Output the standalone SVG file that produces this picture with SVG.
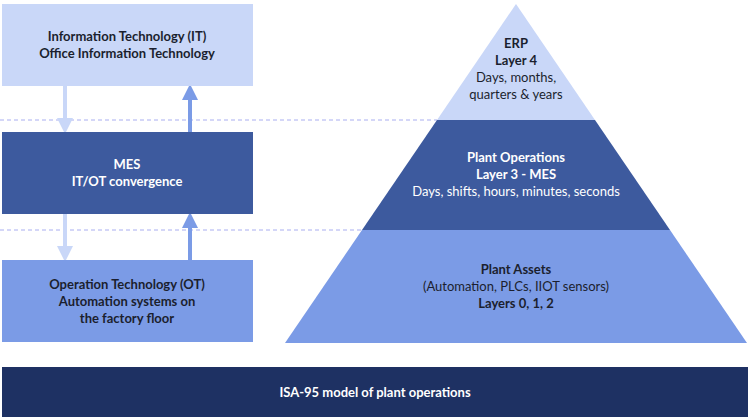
<svg xmlns="http://www.w3.org/2000/svg" width="750" height="420" viewBox="0 0 750 420">
<style>
text{font-family:Lato,"Liberation Sans",sans-serif;font-size:13px;text-anchor:middle;fill:#1b1f2e}
.b{font-weight:bold}
.w{fill:#fff}
.l{fill:#c9d7f8}.d{fill:#3d5a9e}.m{fill:#7b9be6}
.dash{stroke:#a9aef0;stroke-width:1;stroke-dasharray:4 3}
</style>
<defs>
<marker id="hl" markerWidth="4" markerHeight="4" refX="2" refY="2" orient="auto" markerUnits="strokeWidth"><path d="M0,0L4,2L0,4z" fill="#c9d7f8"/></marker>
<marker id="hm" markerWidth="4" markerHeight="4" refX="2" refY="2" orient="auto" markerUnits="strokeWidth"><path d="M0,0L4,2L0,4z" fill="#7b9be6"/></marker>
</defs>
<g id="connectors">
<line class="dash" x1="0" y1="120" x2="437" y2="120"/>
<line class="dash" x1="0" y1="230" x2="362" y2="230"/>
<line x1="65" y1="86" x2="65" y2="126" stroke="#c9d7f8" stroke-width="4" marker-end="url(#hl)"/>
<line x1="190" y1="132" x2="190" y2="92" stroke="#7b9be6" stroke-width="4" marker-end="url(#hm)"/>
<line x1="65" y1="214" x2="65" y2="254" stroke="#c9d7f8" stroke-width="4" marker-end="url(#hl)"/>
<line x1="190" y1="260" x2="190" y2="220" stroke="#7b9be6" stroke-width="4" marker-end="url(#hm)"/>
</g>
<g id="it"><rect class="l" x="2" y="4" width="251" height="82"/>
<text class="b" x="127" y="41">Information Technology (IT)</text><text class="b" x="127" y="58">Office Information Technology</text></g>
<g id="mes"><rect class="d" x="2" y="132" width="251" height="82"/>
<text class="b w" x="127" y="169">MES</text><text class="b w" x="127" y="186">IT/OT convergence</text></g>
<g id="ot"><rect class="m" x="2" y="260" width="251" height="82"/>
<text class="b" x="127" y="289">Operation Technology (OT)</text><text class="b" x="127" y="306">Automation systems on</text><text class="b" x="127" y="323">the factory floor</text></g>
<g id="erp"><polygon class="l" points="516,4 595,120 437,120"/>
<text class="b" x="516" y="48">ERP</text><text class="b" x="516" y="65">Layer 4</text><text x="516" y="82">Days, months,</text><text x="516" y="99">quarters &amp; years</text></g>
<g id="plantops"><polygon class="d" points="437,120 595,120 670,230 362,230"/>
<text class="b w" x="516" y="162">Plant Operations</text><text class="b w" x="516" y="179">Layer 3 - MES</text><text class="w" x="516" y="196">Days, shifts, hours, minutes, seconds</text></g>
<g id="assets"><polygon class="m" points="362,230 670,230 747,343 285,343"/>
<text class="b" x="516" y="274">Plant Assets</text><text x="516" y="291">(Automation, PLCs, IIOT sensors)</text><text class="b" x="516" y="308">Layers 0, 1, 2</text></g>
<g id="footer"><rect x="2" y="367" width="746" height="50" fill="#1e3163"/>
<text class="b w" x="375" y="397">ISA-95 model of plant operations</text></g>
</svg>
